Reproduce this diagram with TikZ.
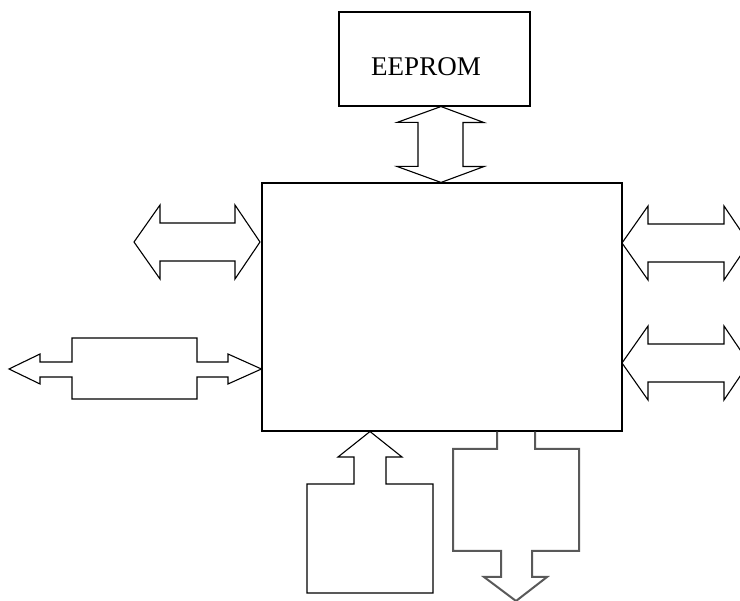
\documentclass[tikz,border=0pt]{standalone}
\usepackage{fontspec}
\setmainfont{Liberation Serif}
\usetikzlibrary{positioning}

\tikzset{
  outline/.style={draw=black, line width=1.1pt, line join=miter},
  blockbox/.style={outline, inner sep=0pt},
}

\begin{document}
\begin{tikzpicture}[x=1pt,y=-1pt]
    \useasboundingbox (0,0) rectangle (740,601);

    % boxes
    \node[blockbox, minimum width=191pt, minimum height=94pt] (eeprom) at (434.5,59) {};
    \node[font=\fontsize{27}{30}\selectfont] (eepromlabel) at (426,67) {EEPROM};
    \node[blockbox, minimum width=360pt, minimum height=248pt] (mcu) at (442,307) {};

    % eeprom <-> mcu
    \draw[outline] (eeprom.south -| 441,0) -- ++(43,16) -- ++(-21,0) -- ++(0,44) -- ++(21,0)
        -- (mcu.north -| 441,0) -- ++(-44,-16) -- ++(21,0) -- ++(0,-44) -- ++(-21,0) -- cycle;

    % plain double arrows, left and right
    \foreach \a/\b/\y in {134/260/242, 622/749/243, 622/749/363} {
        \draw[outline] (\a,\y) -- (\a+26,\y-37) -- (\a+26,\y-19) -- (\b-25,\y-19) -- (\b-25,\y-37)
            -- (\b,\y) -- (\b-25,\y+37) -- (\b-25,\y+19) -- (\a+26,\y+19) -- (\a+26,\y+37) -- cycle;
    }

    % double arrow with block
    \draw[outline] (9,369) -- (40,354) -- (40,362) -- (72,362) -- (72,338) -- (197,338) -- (197,362)
        -- (228,362) -- (228,354) -- (mcu.west |- 0,369) -- (228,384) -- (228,377) -- (197,377)
        -- (197,399) -- (72,399) -- (72,377) -- (40,377) -- (40,384) -- cycle;

    % input from below
    \draw[outline] (mcu.south -| 370,0) -- (402,457) -- (386,457) -- (386,484) -- (433,484) -- (433,593)
        -- (307,593) -- (307,484) -- (354,484) -- (354,457) -- (338,457) -- cycle;

    % output downwards
    \draw[outline, draw=black!65, line width=2pt] (mcu.south -| 497,0) -- (497,449) -- (453,449)
        -- (453,551) -- (501,551) -- (501,577) -- (484,577) -- (516,601) -- (547,577) -- (532,577)
        -- (532,551) -- (579,551) -- (579,449) -- (535,449) -- (mcu.south -| 535,0);
\end{tikzpicture}
\end{document}
